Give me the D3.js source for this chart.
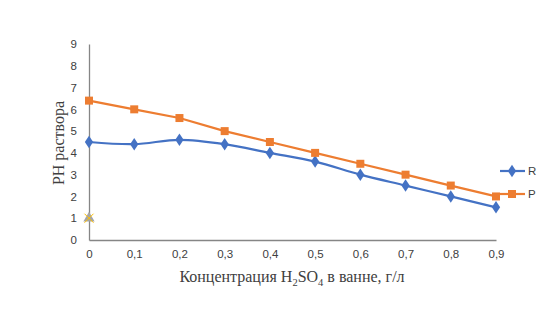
<!DOCTYPE html>
<html>
<head>
<meta charset="utf-8">
<script src="https://cdn.jsdelivr.net/npm/d3@7"></script>
<style>
  html, body { margin: 0; padding: 0; background: #fff; }
  svg { display: block; }
</style>
</head>
<body>
<svg id="chart" width="549" height="324"></svg>
<script>
// Concentration of H2SO4 in the bath, g/l
const concentrations = [0, 0.1, 0.2, 0.3, 0.4, 0.5, 0.6, 0.7, 0.8, 0.9];
const xTickLabels = ["0", "0,1", "0,2", "0,3", "0,4", "0,5", "0,6", "0,7", "0,8", "0,9"];
// pH of solution per series
const seriesR = [4.5, 4.4, 4.6, 4.4, 4.0, 3.6, 3.0, 2.5, 2.0, 1.5];
const seriesP = [6.4, 6.0, 5.6, 5.0, 4.5, 4.0, 3.5, 3.0, 2.5, 2.0];
// single extra point at the origin
const extraPoint = [{ x: 0, y: 1 }];
const yTicks = [0, 1, 2, 3, 4, 5, 6, 7, 8, 9];

const svg = d3.select("#chart");
const blue = "#4472C4", orange = "#ED7D31", gold = "#FFC000", grey = "#A5A5A5", axisCol = "#868686";

const x = d3.scaleLinear().domain([0, 0.9]).range([89, 496]);
const y = d3.scaleLinear().domain([0, 9]).range([240, 44]);

// axes
const xAxis = svg.append("g").attr("transform", "translate(0,240)")
  .call(d3.axisBottom(x).tickValues(concentrations).tickSize(0)
    .tickFormat((d, i) => xTickLabels[i]).tickPadding(10));
xAxis.select(".domain").attr("stroke", axisCol).attr("stroke-width", 1.3);

const yAxis = svg.append("g").attr("transform", "translate(89,0)")
  .call(d3.axisLeft(y).tickValues(yTicks).tickSize(0).tickFormat(d3.format("d")).tickPadding(12));
yAxis.select(".domain").attr("stroke", axisCol).attr("stroke-width", 1.3);

svg.selectAll(".tick text")
  .attr("font-family", "'Liberation Sans', Arial, sans-serif")
  .attr("font-size", 11.5).attr("fill", "#404040");

// lines
const lineSmooth = d3.line().x((d, i) => x(concentrations[i])).y(d => y(d)).curve(d3.curveCatmullRom.alpha(0.5));
const lineStraight = d3.line().x((d, i) => x(concentrations[i])).y(d => y(d));

svg.append("path").datum(seriesR).attr("d", lineSmooth)
  .attr("fill", "none").attr("stroke", blue).attr("stroke-width", 2.2);
svg.append("path").datum(seriesP).attr("d", lineStraight)
  .attr("fill", "none").attr("stroke", orange).attr("stroke-width", 2.2);

const diamond = d3.symbol().type(d3.symbolDiamond).size(45);
const square = d3.symbol().type(d3.symbolSquare).size(64);

svg.append("g").selectAll("path").data(seriesR).join("path")
  .attr("d", diamond)
  .attr("transform", (d, i) => `translate(${x(concentrations[i])},${y(d)}) scale(1.15,1)`)
  .attr("fill", blue);
svg.append("g").selectAll("path").data(seriesP).join("path")
  .attr("d", square)
  .attr("transform", (d, i) => `translate(${x(concentrations[i])},${y(d)})`)
  .attr("fill", orange);

// grey triangle with gold cross at the origin point
const extra = svg.append("g");
extra.selectAll("path.tri").data(extraPoint).join("path").attr("class", "tri")
  .attr("d", d3.symbol().type(d3.symbolTriangle).size(55))
  .attr("transform", d => `translate(${x(d.x)},${y(d.y)})`)
  .attr("fill", grey);
extra.selectAll("path.cross").data(extraPoint).join("path").attr("class", "cross")
  .attr("d", d => {
    const cx = x(d.x), cy = y(d.y), r = 4.5;
    return `M${cx - r},${cy - r}L${cx + r},${cy + r}M${cx - r},${cy + r}L${cx + r},${cy - r}`;
  })
  .attr("stroke", gold).attr("stroke-width", 1).attr("fill", "none");

// legend
const legend = [
  { name: "R", color: blue, sym: diamond, ty: 171 },
  { name: "P", color: orange, sym: square, ty: 194 }
];
const lg = svg.append("g");
legend.forEach(l => {
  lg.append("line").attr("x1", 500).attr("x2", 525).attr("y1", l.ty).attr("y2", l.ty)
    .attr("stroke", l.color).attr("stroke-width", 2.2);
  lg.append("path").attr("d", l.sym)
    .attr("transform", `translate(512,${l.ty})` + (l.name === "R" ? " scale(1.15,1)" : ""))
    .attr("fill", l.color);
  lg.append("text").attr("x", 528).attr("y", l.ty + 4)
    .attr("font-family", "'Liberation Sans', Arial, sans-serif").attr("font-size", 11.5)
    .attr("fill", "#404040").text(l.name);
});

// axis titles
svg.append("text")
  .attr("transform", "translate(64,143) rotate(-90)")
  .attr("text-anchor", "middle")
  .attr("font-family", "'Liberation Serif', 'Times New Roman', serif")
  .attr("font-size", 16).attr("fill", "#404040")
  .text("PH раствора");

const xt = svg.append("text")
  .attr("x", 292).attr("y", 282)
  .attr("text-anchor", "middle")
  .attr("font-family", "'Liberation Serif', 'Times New Roman', serif")
  .attr("font-size", 16).attr("fill", "#404040");
xt.append("tspan").text("Концентрация H");
xt.append("tspan").attr("font-size", 10.5).attr("dy", 4).text("2");
xt.append("tspan").attr("dy", -4).text("SO");
xt.append("tspan").attr("font-size", 10.5).attr("dy", 4).text("4");
xt.append("tspan").attr("dy", -4).text(" в ванне, г/л");
</script>
</body>
</html>
